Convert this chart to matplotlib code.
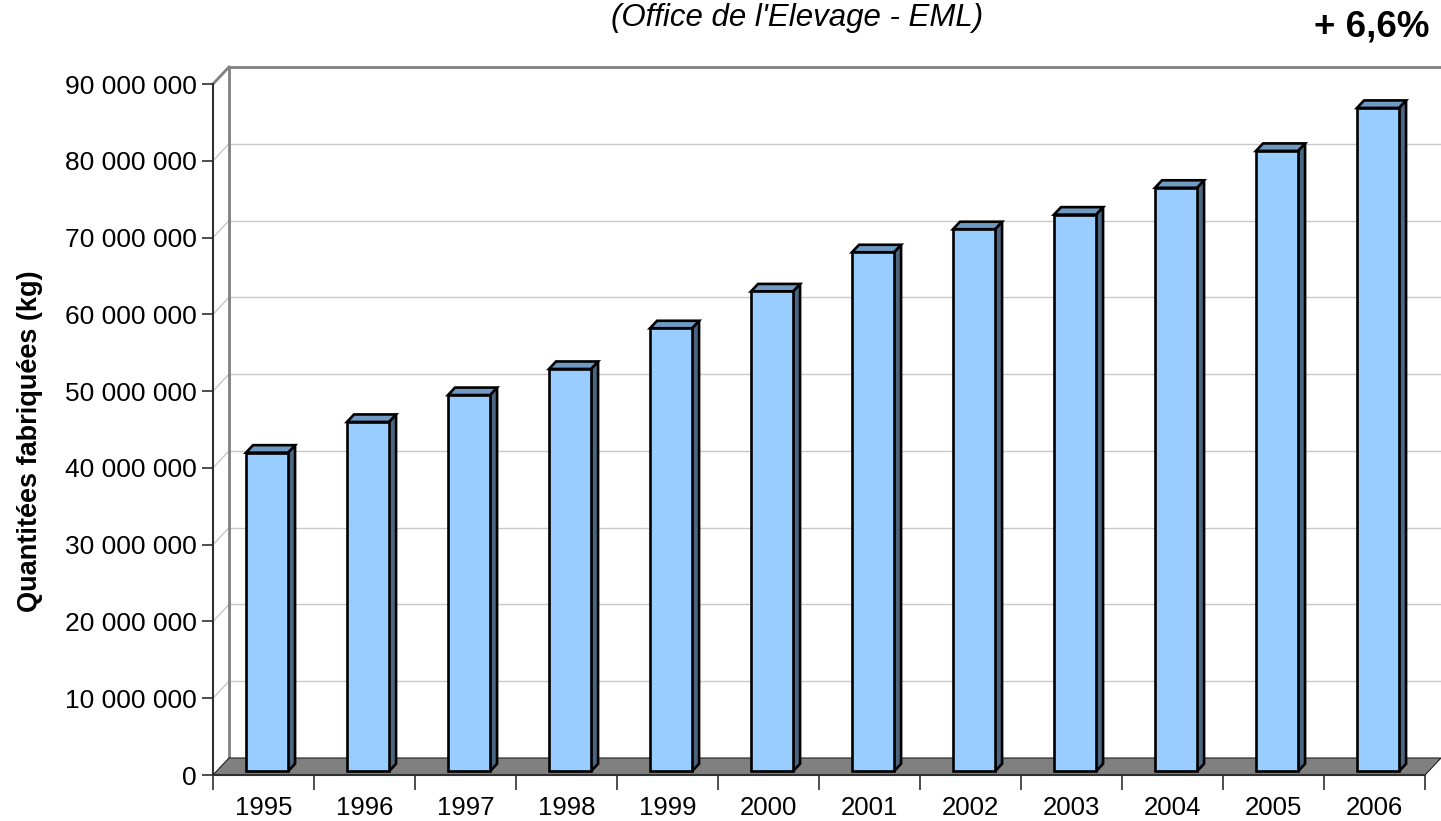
import matplotlib
matplotlib.use("Agg")
import matplotlib.pyplot as plt
from matplotlib.patches import Polygon
from matplotlib.ticker import FixedLocator, NullFormatter

plt.rcParams['font.family'] = ['Liberation Sans', 'DejaVu Sans']

years = ['1995', '1996', '1997', '1998', '1999', '2000',
         '2001', '2002', '2003', '2004', '2005', '2006']
quantities = [41.5e6, 45.5e6, 49.0e6, 52.4e6, 57.7e6, 62.5e6,
              67.6e6, 70.6e6, 72.5e6, 76.0e6, 80.8e6, 86.4e6]
ytick_values = [0, 10e6, 20e6, 30e6, 40e6, 50e6, 60e6, 70e6, 80e6, 90e6]
ytick_labels = ['0', '10 000 000', '20 000 000', '30 000 000', '40 000 000',
                '50 000 000', '60 000 000', '70 000 000', '80 000 000', '90 000 000']
ylabel = 'Quantitées fabriquées (kg)'
subtitle = "(Office de l'Elevage - EML)"
growth = '+ 6,6%'

W, H = 1441, 821
fig = plt.figure(figsize=(W / 100, H / 100), dpi=100)
fig.patch.set_facecolor('white')

# front plane of the pseudo-3D axes (pixels)
L, R, B, T = 213, 1425, 775, 84
ax = fig.add_axes([L / W, (H - B) / H, (R - L) / W, (B - T) / H])
n = len(years)
ymax = 90e6
ax.set_xlim(0, n)
ax.set_ylim(0, ymax)
ax.set_facecolor('none')

px_x = (R - L) / n
px_y = (B - T) / ymax
DX = 16 / px_x     # depth offset in data units
DY = 17 / px_y

# back-wall gridlines and side-wall diagonals
for t in ytick_values[1:]:
    top = (t == ymax)
    c = '#808080' if top else '#c8c8c8'
    lw = 2.0 if top else 1.0
    ax.plot([DX, n + DX], [t + DY, t + DY], color=c, lw=lw, clip_on=False, zorder=1)
    ax.plot([0, DX], [t, t + DY], color=c, lw=lw, clip_on=False, zorder=1)
# back-wall left edge
ax.plot([DX, DX], [DY, ymax + DY], color='#808080', lw=2.0, clip_on=False, zorder=1)

# floor
floor = Polygon([(0, 0), (n, 0), (n + DX, DY), (DX, DY)], closed=True,
                facecolor='#808080', edgecolor='#202020', lw=0.8,
                clip_on=False, zorder=2)
ax.add_patch(floor)

# bars
f1, f2 = 0.22, 0.66
bw = 0.416
front_c, top_c, side_c = '#99ccff', '#7099c3', '#4c6580'
elw = 1.9
for i, v in enumerate(quantities):
    x0 = i + 0.5 - bw / 2
    x1 = i + 0.5 + bw / 2
    ox1, oy1 = f1 * DX, f1 * DY
    ox2, oy2 = f2 * DX, f2 * DY
    side = Polygon([(x1 + ox1, oy1), (x1 + ox2, oy2), (x1 + ox2, v + oy2), (x1 + ox1, v + oy1)],
                   closed=True, facecolor=side_c, edgecolor='black', lw=elw,
                   joinstyle='miter', clip_on=False, zorder=3)
    topf = Polygon([(x0 + ox1, v + oy1), (x1 + ox1, v + oy1), (x1 + ox2, v + oy2), (x0 + ox2, v + oy2)],
                   closed=True, facecolor=top_c, edgecolor='black', lw=elw,
                   joinstyle='miter', clip_on=False, zorder=3)
    front = Polygon([(x0 + ox1, oy1), (x1 + ox1, oy1), (x1 + ox1, v + oy1), (x0 + ox1, v + oy1)],
                    closed=True, facecolor=front_c, edgecolor='black', lw=elw,
                    joinstyle='miter', clip_on=False, zorder=4)
    ax.add_patch(side)
    ax.add_patch(topf)
    ax.add_patch(front)

# spines and ticks
for s in ['top', 'right']:
    ax.spines[s].set_visible(False)
ax.spines['left'].set_color('#303030')
ax.spines['left'].set_linewidth(1.5)
ax.spines['bottom'].set_color('#303030')
ax.spines['bottom'].set_linewidth(1.5)
ax.spines['left'].set_zorder(5)
ax.spines['bottom'].set_zorder(5)

ax.set_yticks(ytick_values)
ax.set_yticklabels(ytick_labels)
ax.tick_params(axis='y', which='major', direction='out', length=8, width=1.2,
               color='#303030', pad=3.5, labelsize=19)

ax.xaxis.set_major_locator(FixedLocator(list(range(n + 1))))
ax.xaxis.set_major_formatter(NullFormatter())
ax.xaxis.set_minor_locator(FixedLocator([i + 0.5 for i in range(n)]))
ax.set_xticklabels(years, minor=True)
ax.tick_params(axis='x', which='major', direction='out', length=11, width=1.2, color='#303030')
ax.tick_params(axis='x', which='minor', length=0, pad=15, labelsize=18.5)

fig.text(30 / W, 1 - 441 / H, ylabel, rotation=90, ha='center', va='center',
         fontsize=19.5, fontweight='bold')
fig.text(797 / W, 1 - 18 / H, subtitle, ha='center', va='center',
         fontsize=22.5, fontstyle='italic')
fig.text(1430 / W, 1 - 27 / H, growth, ha='right', va='center',
         fontsize=26.5, fontweight='bold')

fig.savefig('out.png', dpi=100, facecolor='white')
